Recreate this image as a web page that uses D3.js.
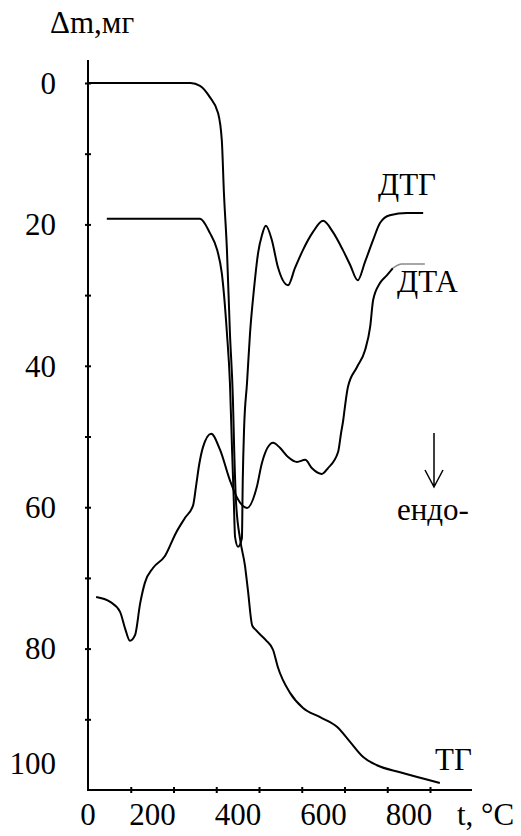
<!DOCTYPE html>
<html>
<head>
<meta charset="utf-8">
<script src="https://cdn.jsdelivr.net/npm/d3@7"></script>
<style>
	body { margin: 0; background: #fff; }
	#chart text { font-family: 'Liberation Serif', serif; font-size: 31px; fill: #000; }
</style>
</head>
<body>
<svg id="chart" width="521" height="836"></svg>
<script>
// ТГ curve: temperature, mass loss
const tgTemp = [0, 240, 262, 285, 304, 313, 318, 325, 332, 339, 342, 346, 356, 367, 374, 384, 393, 416, 433, 444, 473, 503, 543, 583, 613, 643, 676, 730, 823];
const tgMass = [0, 0, 0.4, 2.0, 4.2, 8.1, 15.6, 23.6, 35.4, 44.8, 51.9, 59.0, 64.6, 68.2, 71.7, 76.7, 77.4, 78.8, 80.2, 82.6, 86.3, 88.4, 89.7, 91.1, 93.2, 95.3, 96.5, 97.5, 99.0];

// ДТГ curve (drawn in the same mass units)
const dtgTemp = [44, 262, 285, 302, 313, 325, 332, 337, 341, 344, 351, 360, 362, 365, 372, 379, 388, 398, 407, 416, 430, 444, 468, 484, 503, 526, 550, 573, 596, 613, 631, 648, 667, 683, 706, 746, 784];
const dtgMass = [19.2, 19.2, 21.2, 23.6, 26.9, 35.4, 42.4, 51.9, 59.0, 64.2, 65.6, 64.4, 56.2, 49.1, 42.4, 35.4, 29.3, 24.0, 21.5, 20.2, 22.2, 26.0, 28.6, 26.2, 23.6, 21.1, 19.5, 21.1, 23.6, 25.7, 27.9, 25.3, 22.2, 19.8, 18.7, 18.4, 18.4];

// ДТА curve
const dtaTemp = [19, 52, 75, 87, 98, 110, 122, 133, 152, 180, 206, 227, 246, 253, 260, 269, 288, 309, 332, 349, 372, 395, 407, 433, 449, 468, 489, 508, 524, 547, 561, 585, 592, 597, 601, 608, 629, 648, 660, 667, 683, 699, 713, 734, 788];
const dtaMass = [72.7, 73.4, 74.8, 77.2, 78.9, 78.1, 73.6, 70.7, 68.6, 66.9, 63.6, 61.5, 59.7, 56.9, 54.0, 51.5, 49.6, 51.9, 56.2, 58.7, 60.1, 57.1, 53.7, 50.9, 51.6, 52.9, 53.6, 53.3, 54.5, 55.3, 54.5, 52.2, 49.5, 47.7, 45.8, 43.0, 40.2, 37.8, 34.5, 30.7, 28.3, 27.2, 26.2, 25.6, 25.6];
const dtaFaintFrom = 713; // the end of the ДТА trace is printed faint

const tempTicks = [100, 200, 300, 400, 500, 600, 700, 800];
const tempLabels = [0, 200, 400, 600, 800];
const massTicks = [0, 10, 20, 30, 40, 50, 60, 70, 80, 90];
const massLabels = [0, 20, 40, 60, 80, 100];

const zip = (a, b) => a.map((v, i) => [v, b[i]]);

const svg = d3.select('#chart');
const x = d3.scaleLinear().domain([0, 800]).range([88, 430]);
const y = d3.scaleLinear().domain([0, 100]).range([83, 790]);

// axes
const xAxis = svg.append('g')
	.attr('transform', `translate(0,${y(100)})`)
	.call(d3.axisBottom(x).tickValues(tempTicks).tickFormat('').tickSize(3));
xAxis.select('.domain').remove();
xAxis.selectAll('line').attr('y1', -3).attr('y2', 3).attr('stroke-width', 2);

const yAxis = svg.append('g')
	.attr('transform', `translate(${x(0)},0)`)
	.call(d3.axisLeft(y).tickValues(massTicks).tickFormat('').tickSize(3));
yAxis.select('.domain').remove();
yAxis.selectAll('line').attr('x1', -3).attr('x2', 3).attr('stroke-width', 2);

svg.append('line')
	.attr('x1', x(0)).attr('x2', x(0))
	.attr('y1', 60).attr('y2', y(100) + 1)
	.attr('stroke', '#000').attr('stroke-width', 2);
svg.append('line')
	.attr('x1', x(0) - 1).attr('x2', 472)
	.attr('y1', y(100)).attr('y2', y(100))
	.attr('stroke', '#000').attr('stroke-width', 2);

const label = (tx, ty, str) => svg.append('text')
	.attr('x', tx).attr('y', ty)
	.text(str);

svg.selectAll('.ylab')
	.data(massLabels)
	.enter()
		.append('text')
		.attr('x', 56)
		.attr('y', d => y(d) + (d === 100 ? -27 : 0))
		.attr('dy', '0.35em')
		.attr('text-anchor', 'end')
		.text(d => d);

svg.selectAll('.xlab')
	.data(tempLabels)
	.enter()
		.append('text')
		.attr('x', d => d === 0 ? x(d) : x(d) - 21)
		.attr('y', 825)
		.attr('text-anchor', 'middle')
		.text(d => d);

label(50, 33, 'Δm,мг');
label(457, 825, 't, °C');

// curves
const line = d3.line()
	.x(d => x(d[0]))
	.y(d => y(d[1]))
	.curve(d3.curveMonotoneX);

const dta = zip(dtaTemp, dtaMass);
[zip(tgTemp, tgMass), zip(dtgTemp, dtgMass), dta.filter(d => d[0] <= dtaFaintFrom)].forEach(pts => {
	svg.append('path')
		.attr('d', line(pts))
		.attr('fill', 'none')
		.attr('stroke', '#000')
		.attr('stroke-width', 2);
});
svg.append('path')
	.attr('d', line(dta.filter(d => d[0] >= dtaFaintFrom)))
	.attr('fill', 'none')
	.attr('stroke', '#8a8a8a')
	.attr('stroke-width', 1.5);

// curve names
label(378, 195, 'ДТГ');
label(397, 292, 'ДТА');
label(435, 770, 'ТГ');

// endo arrow
svg.append('path')
	.attr('d', 'M434,433 V487 M425,470 L434,487 L443,470')
	.attr('fill', 'none')
	.attr('stroke', '#000')
	.attr('stroke-width', 1.5);
label(397, 520, 'ендо-');
</script>
</body>
</html>
